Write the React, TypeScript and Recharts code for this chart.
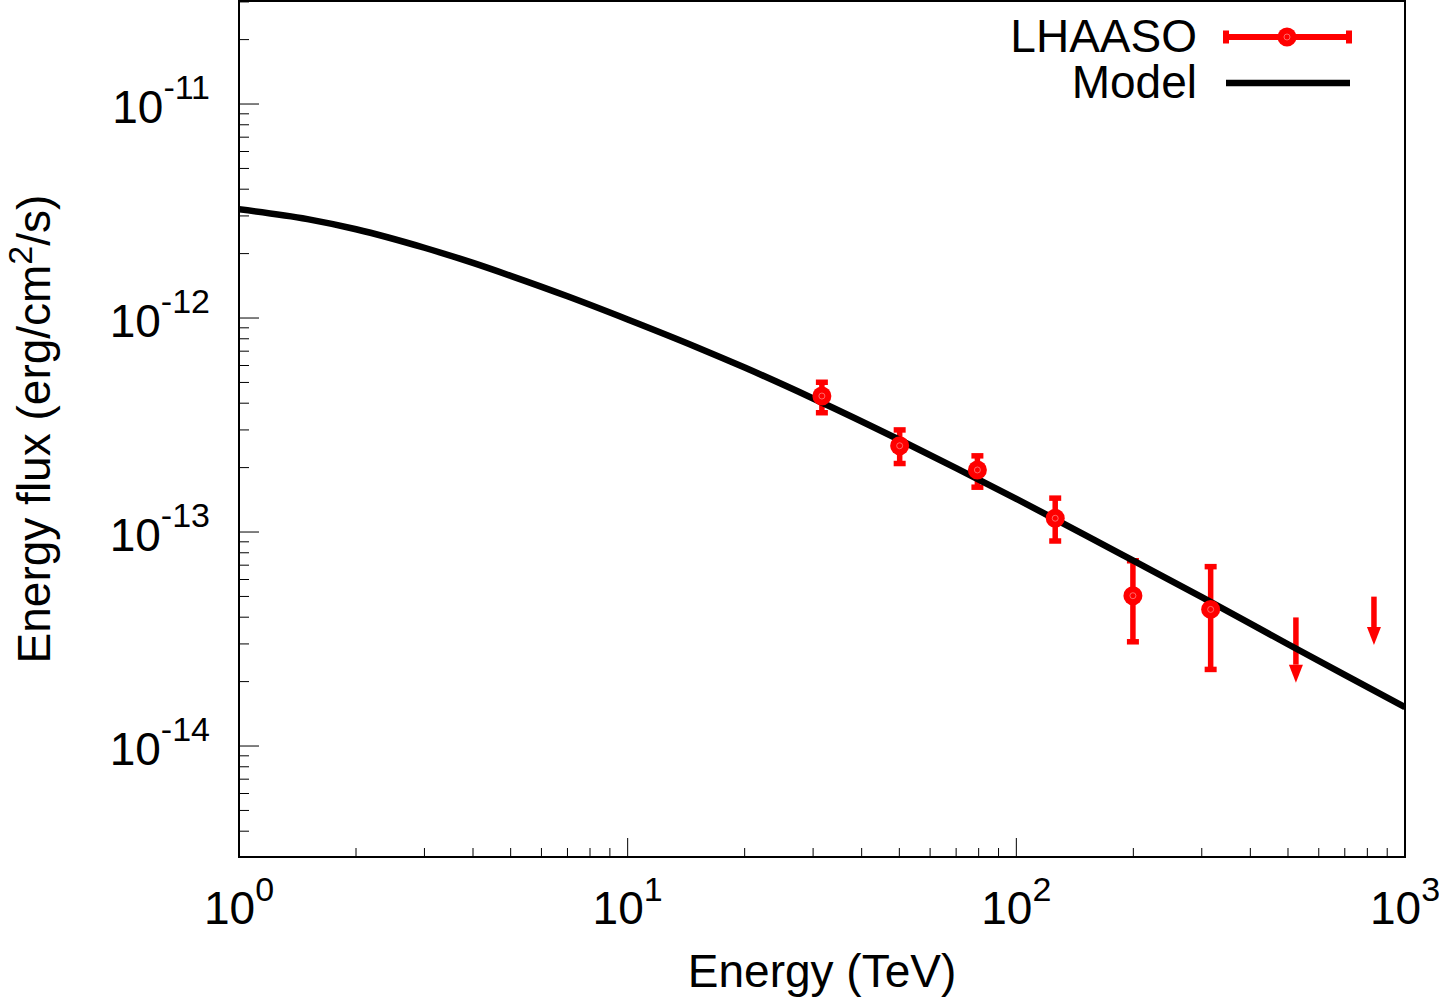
import { ComposedChart, XAxis, YAxis, Scatter, Line, ErrorBar, ReferenceArea, Legend } from "recharts";

const FONT = '"Liberation Sans", Arial, Helvetica, sans-serif';
const RED = "#ff0000";
const LHAASO = "LHAASO";
const MODEL = "Model";

// LHAASO points, energy in TeV, flux in erg/cm^2/s
const lhaasoEnergy = [31.6, 50.1, 79.4, 125.9, 199.5, 316.2];
const lhaasoFlux = [4.32e-13, 2.53e-13, 1.95e-13, 1.16e-13, 5.04e-14, 4.35e-14];
const lhaasoLow = [3.61e-13, 2.09e-13, 1.62e-13, 9.08e-14, 3.07e-14, 2.28e-14];
const lhaasoHigh = [5.01e-13, 3.0e-13, 2.27e-13, 1.44e-13, 7.34e-14, 6.89e-14];

// upper limits: the limit, and where the shaft meets the arrow head
const ulEnergy = [524, 832];
const ulValue = [3.99e-14, 4.99e-14];
const ulShaftEnd = [2.4e-14, 3.6e-14];

// model curve
const modelEnergy = [1, 1.5, 2, 3, 4, 5, 7, 10, 15, 20, 30, 50, 70, 100, 150, 200, 300, 500, 700, 1000];
const modelFlux = [
  3.22e-12, 2.9e-12, 2.6e-12, 2.13e-12, 1.81e-12, 1.575e-12, 1.264e-12, 9.85e-13, 7.33e-13, 5.87e-13,
  4.21e-13, 2.7e-13, 1.99e-13, 1.43e-13, 9.71e-14, 7.35e-14, 4.96e-14, 2.99e-14, 2.15e-14, 1.52e-14,
];

const xDecades = [1, 10, 100, 1000];
const xExponents = ["0", "1", "2", "3"];
const yDecades = [1e-15, 1e-14, 1e-13, 1e-12, 1e-11];
const yExponents = ["-15", "-14", "-13", "-12", "-11"];
const X_DOMAIN = [1, 1000];
const Y_DOMAIN = [3.03e-15, 3.03e-11];

const points = lhaasoEnergy.map((energy, i) => ({
  energy,
  flux: lhaasoFlux[i],
  err: [lhaasoFlux[i] - lhaasoLow[i], lhaasoHigh[i] - lhaasoFlux[i]],
}));
const limits = ulEnergy.map((energy, i) => ({
  energy,
  flux: ulShaftEnd[i],
  err: [0, ulValue[i] - ulShaftEnd[i]],
}));
const model = modelEnergy.map((energy, i) => ({ energy, flux: modelFlux[i] }));

// decade ticks plus 2..9 minor ticks inside the domain
function logTicks(decades: number[], domain: number[]) {
  const out: number[] = [];
  decades.forEach((d) => {
    for (let m = 1; m <= 9; m++) {
      const v = d * m;
      if (v >= domain[0] * 0.9999 && v <= domain[1] * 1.0001) out.push(v);
    }
  });
  return out;
}
const xTicks = logTicks(xDecades, X_DOMAIN);
const yTicks = logTicks(yDecades, Y_DOMAIN);

const decadeIndex = (decades: number[], v: number) => decades.findIndex((d) => Math.abs(v / d - 1) < 1e-6);

function XTick({ x, y, payload }: any) {
  const i = decadeIndex(xDecades, payload.value);
  const len = i >= 0 ? 19 : 9;
  return (
    <g>
      <line x1={x} x2={x} y1={y} y2={y - len} stroke="#000" strokeWidth={1} />
      {i >= 0 && (
        <text x={x} y={y + 67} textAnchor="middle" fontSize={46} fontFamily={FONT} fill="#000">
          10<tspan dy={-23} fontSize={34}>{xExponents[i]}</tspan>
        </text>
      )}
    </g>
  );
}

function YTick({ x, y, payload }: any) {
  const i = decadeIndex(yDecades, payload.value);
  const len = i >= 0 ? 20 : 10;
  return (
    <g>
      <line x1={x} x2={x + len} y1={y} y2={y} stroke="#000" strokeWidth={1} />
      {i >= 0 && (
        <text x={x - 29} y={y + 19} textAnchor="end" fontSize={46} fontFamily={FONT} fill="#000">
          10<tspan dy={-24} fontSize={34}>{yExponents[i]}</tspan>
        </text>
      )}
    </g>
  );
}

function YTitle() {
  return (
    <text x={50} y={429} transform="rotate(-90 50 429)" textAnchor="middle" fontSize={46} fontFamily={FONT} fill="#000">
      Energy flux (erg/cm<tspan dy={-18} fontSize={34}>2</tspan>
      <tspan dy={18}>/s)</tspan>
    </text>
  );
}

function PointDot({ cx, cy }: any) {
  return (
    <g>
      <circle cx={cx} cy={cy} r={9.5} fill={RED} />
      <circle cx={cx} cy={cy} r={3} fill="none" stroke="#ff8080" strokeWidth={0.8} />
    </g>
  );
}

function ArrowHead({ cx, cy }: any) {
  return <polygon points={`${cx - 7},${cy} ${cx + 7},${cy} ${cx},${cy + 18}`} fill={RED} />;
}

function LegendBox() {
  const txt = { fontSize: 46, fontFamily: FONT, fill: "#000", textAnchor: "end" as const };
  return (
    <svg width={400} height={110} style={{ display: "block" }}>
      <text x={197} y={52} {...txt}>{LHAASO}</text>
      <line x1={223} x2={352} y1={37} y2={37} stroke={RED} strokeWidth={6} />
      <line x1={226} x2={226} y1={30.5} y2={43.5} stroke={RED} strokeWidth={6} />
      <line x1={349} x2={349} y1={30.5} y2={43.5} stroke={RED} strokeWidth={6} />
      <circle cx={287} cy={37} r={9.5} fill={RED} />
      <circle cx={287} cy={37} r={3} fill="none" stroke="#ff8080" strokeWidth={0.8} />
      <text x={197} y={98} {...txt}>{MODEL}</text>
      <line x1={226} x2={350} y1={83} y2={83} stroke="#000" strokeWidth={6.5} />
    </svg>
  );
}

export default function App() {
  return (
    <div style={{ position: "absolute", left: 0, top: 0, background: "#fff" }}>
      <ComposedChart width={1439} height={998} margin={{ top: 1, right: 34, bottom: 0, left: 0 }}>
        <XAxis
          type="number"
          dataKey="energy"
          scale="log"
          domain={X_DOMAIN}
          allowDataOverflow
          ticks={xTicks}
          interval={0}
          tick={(p: any) => <XTick {...p} />}
          tickSize={0}
          tickMargin={0}
          axisLine={false}
          height={141}
          label={{ value: "Energy (TeV)", position: "insideBottom", offset: 11, fontSize: 46, fill: "#000", fontFamily: FONT }}
        />
        <YAxis
          type="number"
          dataKey="flux"
          scale="log"
          domain={Y_DOMAIN}
          allowDataOverflow
          ticks={yTicks}
          interval={0}
          tick={(p: any) => <YTick {...p} />}
          tickSize={0}
          tickMargin={0}
          axisLine={false}
          width={239}
          label={<YTitle />}
        />
        <Legend
          layout="vertical"
          align="center"
          verticalAlign="middle"
          wrapperStyle={{ position: "absolute", left: 1000, top: 0, width: 400, height: 110 }}
          content={() => <LegendBox />}
        />
        <Scatter name={LHAASO} data={points} dataKey="flux" fill={RED} shape={(p: any) => <PointDot {...p} />} isAnimationActive={false}>
          <ErrorBar dataKey="err" direction="y" width={6} strokeWidth={5.5} stroke={RED} isAnimationActive={false} />
        </Scatter>
        <Scatter name="UL" legendType="none" data={limits} dataKey="flux" fill={RED} shape={(p: any) => <ArrowHead {...p} />} isAnimationActive={false}>
          <ErrorBar dataKey="err" direction="y" width={0} strokeWidth={5.5} stroke={RED} isAnimationActive={false} />
        </Scatter>
        <Line name={MODEL} data={model} dataKey="flux" type="monotone" stroke="#000" strokeWidth={6.5} dot={false} isAnimationActive={false} />
        <ReferenceArea x1={X_DOMAIN[0]} x2={X_DOMAIN[1]} y1={Y_DOMAIN[0]} y2={Y_DOMAIN[1]} fill="none" stroke="#000" strokeWidth={2} />
      </ComposedChart>
    </div>
  );
}
